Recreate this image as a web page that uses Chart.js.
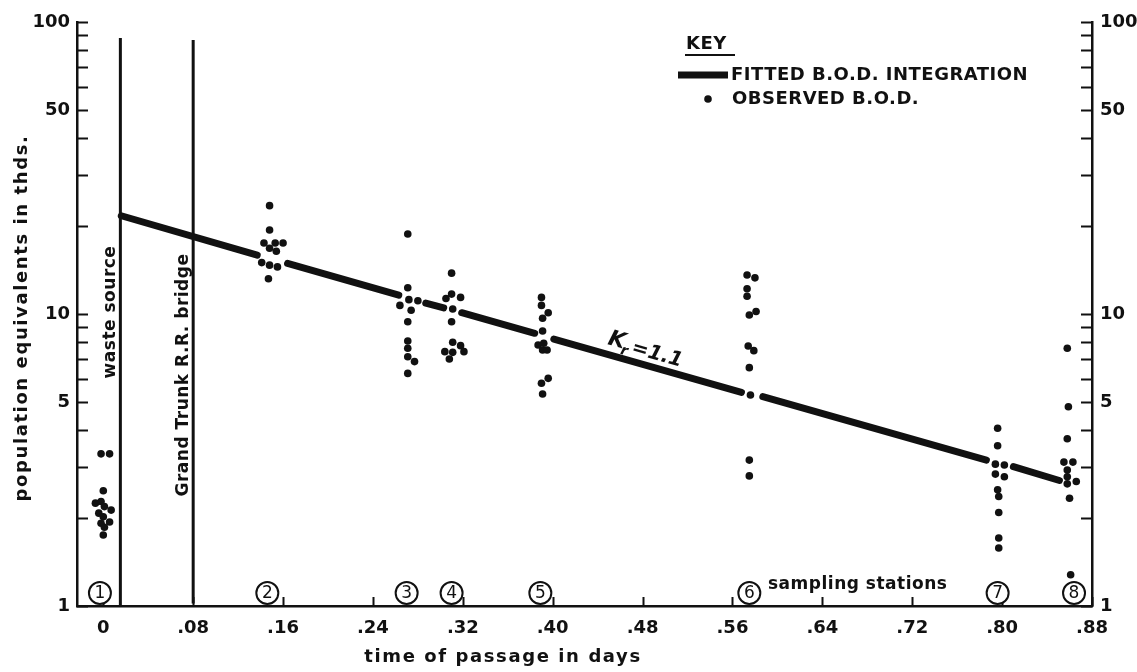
<!DOCTYPE html>
<html>
<head>
<meta charset="utf-8">
<title>B.O.D. along the river</title>
<script src="https://cdn.jsdelivr.net/npm/chart.js@4.4.0/dist/chart.umd.min.js"></script>
<style>
  html, body { margin: 0; padding: 0; background: #fff; }
  #wrap { width: 1137px; height: 672px; }
</style>
</head>
<body>
<div id="wrap"><canvas id="bodChart" width="1137" height="672"></canvas></div>
<script>
/* observed B.O.D. vs time of passage — log scale, population equivalents in thousands */

// observed B.O.D., grouped by sampling station (days, thousands)
const obsDays = [
    -0.002, 0.0056, 0.0, -0.007, -0.002, 0.001, 0.007, -0.004, 0.0, 0.0056, -0.002, 0.001, 0.0,
    0.148, 0.148, 0.143, 0.153, 0.160, 0.148, 0.154, 0.141, 0.148, 0.155, 0.147,
    0.271, 0.271, 0.264, 0.272, 0.280, 0.274, 0.271, 0.271, 0.271, 0.271, 0.277, 0.271,
    0.310, 0.310, 0.305, 0.318, 0.311, 0.310, 0.311, 0.318, 0.321, 0.304, 0.311, 0.308,
    0.390, 0.390, 0.396, 0.391, 0.391, 0.387, 0.392, 0.391, 0.395, 0.396, 0.390, 0.391,
    0.573, 0.580, 0.573, 0.573, 0.575, 0.581, 0.574, 0.579, 0.575, 0.576, 0.575, 0.575,
    0.796, 0.796, 0.794, 0.802, 0.794, 0.802, 0.796, 0.797, 0.797, 0.797, 0.797,
    0.858, 0.859, 0.858, 0.855, 0.863, 0.858, 0.858, 0.866, 0.858, 0.860, 0.861
];
const obsPE = [
    3.32, 3.32, 2.48, 2.25, 2.28, 2.19, 2.13, 2.08, 2.02, 1.94, 1.92, 1.86, 1.75,
    23.5, 19.4, 17.5, 17.5, 17.5, 16.8, 16.4, 15.0, 14.7, 14.5, 13.2,
    18.8, 12.3, 10.7, 11.2, 11.1, 10.3, 9.41, 8.08, 7.63, 7.14, 6.87, 6.26,
    13.8, 11.7, 11.3, 11.4, 10.4, 9.41, 8.00, 7.79, 7.43, 7.43, 7.39, 7.01,
    11.4, 10.7, 10.1, 9.67, 8.75, 7.83, 7.94, 7.53, 7.53, 6.02, 5.79, 5.32,
    13.6, 13.3, 12.2, 11.5, 9.92, 10.2, 7.77, 7.49, 6.55, 5.28, 3.16, 2.79,
    4.06, 3.54, 3.06, 3.04, 2.83, 2.77, 2.50, 2.37, 2.09, 1.71, 1.58,
    7.63, 4.81, 3.74, 3.11, 3.11, 2.92, 2.77, 2.67, 2.62, 2.34, 1.28
];

// fitted B.O.D. integration (Kr = 1.1), broken where the station dots sit
const fitDays = [0.016, 0.137, 0.150, 0.164, 0.263, 0.275, 0.287, 0.303, 0.311, 0.319, 0.384, 0.392,
                 0.401, 0.568, 0.577, 0.587, 0.786, 0.798, 0.810, 0.851];
const fitPE   = [21.7, 15.9, null, 14.9, 11.6, null, 10.9, 10.5, null, 10.1, 8.59, null,
                 8.21, 5.39, null, 5.21, 3.16, null, 3.00, 2.69];

// waste source / railroad bridge markers
const markerDays   = [0.0152, 0.08];
const markerTop    = [88.1, 86.8];
const markerBottom = [1.0, 1.02];
const markerNames  = ['waste source', 'Grand Trunk R.R. bridge'];

// sampling stations
const stationDays  = [-0.003, 0.146, 0.270, 0.310, 0.389, 0.575, 0.796, 0.864];
const stationNames = ['1', '2', '3', '4', '5', '6', '7', '8'];

// axes
const xTicks  = [0, 0.08, 0.16, 0.24, 0.32, 0.40, 0.48, 0.56, 0.64, 0.72, 0.80, 0.88];
const yTicks  = [1, 2, 3, 4, 5, 6, 7, 8, 9, 10, 20, 30, 40, 50, 60, 70, 80, 90, 100];
const yLabels = [1, 5, 10, 50, 100];

const INK = '#111';
const FONT = '"DejaVu Sans", sans-serif';

function xLabel(v) {
    if (v === 0) return '0';
    return '.' + String(Math.round(v * 100)).padStart(2, '0');
}

function yLabel(v) {
    return yLabels.includes(v) ? String(v) : '';
}

// annotations, legend and inward tick marks
const paperMarks = {
    id: 'paperMarks',
    afterDraw(chart) {
        const { ctx, chartArea: a, scales: { x, y } } = chart;
        ctx.save();
        ctx.strokeStyle = INK;
        ctx.fillStyle = INK;
        ctx.lineWidth = 2;

        // ticks point into the plot on all three axes
        ctx.beginPath();
        for (const t of y.ticks) {
            const py = Math.round(y.getPixelForValue(t.value)) + 0.5;
            ctx.moveTo(a.left, py); ctx.lineTo(a.left + 11, py);
            ctx.moveTo(a.right, py); ctx.lineTo(a.right - 11, py);
        }
        for (const t of x.ticks) {
            const px = Math.round(x.getPixelForValue(t.value)) + 0.5;
            ctx.moveTo(px, a.bottom); ctx.lineTo(px, a.bottom - 9);
        }
        ctx.stroke();

        // axis titles
        ctx.letterSpacing = '1.6px';
        ctx.font = 'bold 18px ' + FONT;
        ctx.textAlign = 'center';
        ctx.textBaseline = 'middle';
        ctx.save();
        ctx.translate(22, 318);
        ctx.rotate(-Math.PI / 2);
        ctx.fillText('population equivalents in thds.', 0, 0);
        ctx.restore();
        ctx.fillText('time of passage in days', 503, 657);

        // marker labels, read bottom to top beside their lines
        ctx.letterSpacing = '0.5px';
        ctx.font = 'bold 17px ' + FONT;
        const labelMid = [312, 375];
        markerDays.forEach((d, i) => {
            ctx.save();
            ctx.translate(x.getPixelForValue(d) - 10, labelMid[i]);
            ctx.rotate(-Math.PI / 2);
            ctx.fillText(markerNames[i], 0, 0);
            ctx.restore();
        });

        // station circles
        ctx.letterSpacing = '0px';
        ctx.lineWidth = 2;
        ctx.font = '17px ' + FONT;
        stationDays.forEach((d, i) => {
            const px = x.getPixelForValue(d);
            const py = a.bottom - 13;
            ctx.beginPath();
            ctx.arc(px, py, 11, 0, Math.PI * 2);
            ctx.fillStyle = '#fff';
            ctx.fill();
            ctx.stroke();
            ctx.fillStyle = INK;
            ctx.fillText(stationNames[i], px, py + 1);
        });
        ctx.textAlign = 'left';
        ctx.letterSpacing = '0.5px';
        ctx.font = 'bold 17px ' + FONT;
        ctx.fillText('sampling stations', 768, a.bottom - 21);

        // Kr = 1.1, tilted along the fitted line
        const p1 = { x: x.getPixelForValue(fitDays[0]), y: y.getPixelForValue(fitPE[0]) };
        const p2 = { x: x.getPixelForValue(fitDays[fitDays.length - 1]), y: y.getPixelForValue(fitPE[fitPE.length - 1]) };
        ctx.save();
        ctx.translate(607, 344);
        ctx.rotate(Math.atan2(p2.y - p1.y, p2.x - p1.x));
        ctx.textBaseline = 'alphabetic';
        ctx.letterSpacing = '0px';
        ctx.font = 'italic bold 22px ' + FONT;
        ctx.fillText('K', 0, 0);
        ctx.font = 'italic bold 14px ' + FONT;
        ctx.fillText('r', 15, 6);
        ctx.font = 'italic bold 20px ' + FONT;
        ctx.fillText('=1.1', 25, 2);
        ctx.restore();

        // key
        ctx.textBaseline = 'middle';
        ctx.letterSpacing = '0.5px';
        ctx.font = 'bold 18px ' + FONT;
        ctx.fillText('KEY', 686, 44);
        ctx.lineWidth = 2;
        ctx.beginPath();
        ctx.moveTo(685, 55); ctx.lineTo(735, 55);
        ctx.stroke();
        ctx.lineWidth = 7;
        ctx.beginPath();
        ctx.moveTo(678, 75); ctx.lineTo(728, 75);
        ctx.stroke();
        ctx.fillText('FITTED B.O.D. INTEGRATION', 731, 75);
        ctx.beginPath();
        ctx.arc(708, 99, 3.8, 0, Math.PI * 2);
        ctx.fill();
        ctx.fillText('OBSERVED B.O.D.', 732, 99);

        ctx.restore();
    }
};

function yAxis(pos, width, pad) {
    return {
        type: 'logarithmic',
        position: pos,
        min: 1,
        max: 100,
        afterBuildTicks: s => { s.ticks = yTicks.map(v => ({ value: v })); },
        afterFit: s => { s.width = width; },
        grid: { display: false, drawTicks: false },
        border: { display: true, color: INK, width: 2.5 },
        ticks: {
            autoSkip: false,
            padding: pad,
            color: INK,
            font: { family: FONT, weight: 'bold', size: 18 },
            callback: v => yLabel(v)
        }
    };
}

const ctx = document.getElementById('bodChart');
new Chart(ctx.getContext('2d'), {
    type: 'scatter',
    data: {
        datasets: [
            {
                label: 'OBSERVED B.O.D.',
                data: obsDays.map((d, i) => ({ x: d, y: obsPE[i] })),
                pointRadius: 3.8,
                pointBorderWidth: 0,
                pointBackgroundColor: INK
            },
            {
                label: 'FITTED B.O.D. INTEGRATION',
                data: fitDays.map((d, i) => ({ x: d, y: fitPE[i] })),
                showLine: true,
                spanGaps: false,
                borderColor: INK,
                borderWidth: 7,
                borderCapStyle: 'round',
                pointRadius: 0
            },
            ...markerDays.map((d, i) => ({
                label: markerNames[i],
                data: [{ x: d, y: markerBottom[i] }, { x: d, y: markerTop[i] }],
                showLine: true,
                borderColor: INK,
                borderWidth: 3,
                pointRadius: 0
            }))
        ]
    },
    options: {
        responsive: false,
        animation: false,
        events: [],
        layout: { padding: { top: 22, left: 0, right: 0, bottom: 0 } },
        scales: {
            x: {
                type: 'linear',
                min: -0.0234,
                max: 0.88,
                afterBuildTicks: s => { s.ticks = xTicks.map(v => ({ value: v })); },
                afterFit: s => { s.height = 66; },
                grid: { display: false, drawTicks: false },
                border: { display: true, color: INK, width: 2.5 },
                ticks: {
                    autoSkip: false,
                    maxRotation: 0,
                    padding: 12,
                    color: INK,
                    font: { family: FONT, weight: 'bold', size: 18 },
                    callback: v => xLabel(v)
                }
            },
            y: yAxis('left', 77, 7),
            y2: yAxis('right', 45, 8)
        },
        plugins: {
            legend: { display: false },
            tooltip: { enabled: false }
        }
    },
    plugins: [paperMarks]
});
</script>
</body>
</html>
